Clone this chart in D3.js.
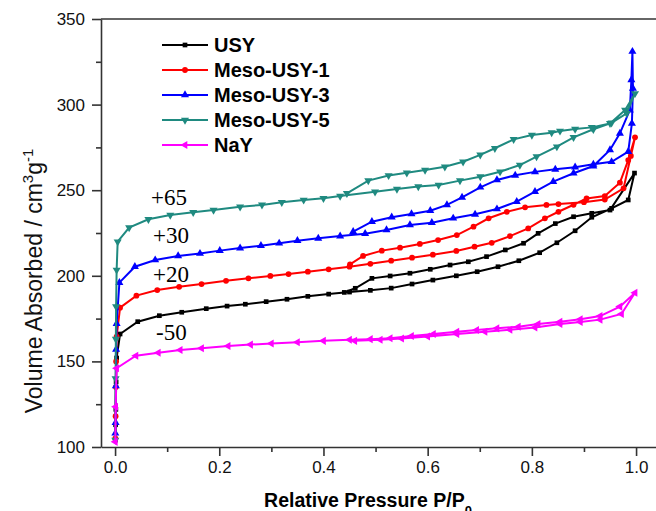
<!DOCTYPE html>
<html>
<head>
<meta charset="utf-8">
<script src="https://cdn.jsdelivr.net/npm/d3@7"></script>
<style>
  body { margin: 0; background: #fff; }
  svg { display: block; }
  .tick text { font-family: "Liberation Sans", Arial, sans-serif; }
</style>
</head>
<body>
<div id="graph"></div>
<script>
// isotherm data, [P/P0, volume]
var usyAds = [[0.0005,104],[0.001,113],[0.0015,122],[0.002,138],[0.003,152],[0.0096,166],[0.0435,173.2],[0.085,176.7],[0.128,178.7],[0.175,180.8],[0.215,182.3],[0.25,183.4],[0.29,184.9],[0.33,186.3],[0.37,188],[0.41,189.3],[0.45,190.5],[0.49,191.5],[0.53,192.8],[0.57,195.2],[0.61,197.5],[0.655,200],[0.695,202.4],[0.735,205.3],[0.775,208.8],[0.815,213.5],[0.848,219.3],[0.883,226.3],[0.915,234.2],[0.953,239.4],[0.985,244.3],[0.997,260]];
var usyDes = [[0.95,238.4],[0.915,236.5],[0.88,234.5],[0.845,230.5],[0.812,224.8],[0.784,219],[0.749,215.1],[0.713,211.2],[0.678,208.2],[0.643,206.3],[0.605,203.8],[0.566,201.5],[0.528,199.9],[0.493,198.5],[0.461,192.7],[0.44,190.3]];

var meso1Ads = [[0.0005,105],[0.001,118],[0.0015,135],[0.002,150],[0.003,164.4],[0.0096,181.4],[0.041,188.4],[0.081,191.7],[0.123,193.6],[0.166,195.2],[0.213,197.1],[0.256,198.5],[0.298,199.9],[0.333,201],[0.37,202.4],[0.41,203.8],[0.45,205.3],[0.49,207],[0.53,208.8],[0.57,210.6],[0.61,212.3],[0.655,214.5],[0.69,217],[0.723,219.3],[0.758,223.2],[0.793,227.7],[0.825,233.6],[0.851,237.4],[0.88,241.5],[0.905,245.2],[0.94,246.6],[0.969,254.4],[0.985,267.6],[0.998,280.9]];
var meso1Des = [[0.99,270],[0.976,251.1],[0.94,244.5],[0.9,243],[0.851,241.9],[0.828,241.4],[0.787,240],[0.752,237.4],[0.717,233.6],[0.688,228.7],[0.656,223.8],[0.62,220.9],[0.585,218.6],[0.547,216.4],[0.512,214.7],[0.476,211.6],[0.451,206.7]];

var meso3Ads = [[0.0005,108],[0.001,114.2],[0.0015,135.6],[0.002,157],[0.003,172],[0.0083,196],[0.038,205.3],[0.077,209.2],[0.121,211.6],[0.163,213],[0.201,214.7],[0.24,216.2],[0.28,217.6],[0.315,219],[0.35,220.5],[0.39,221.9],[0.432,223.2],[0.48,224.6],[0.521,226.8],[0.566,229.7],[0.608,231],[0.649,233.6],[0.691,235.9],[0.733,239],[0.771,243.3],[0.806,249.2],[0.841,255],[0.88,259.9],[0.918,264.1],[0.95,273.5],[0.969,283.2],[0.988,296.8],[0.991,314.4],[0.993,331]];
var meso3Des = [[0.994,309.5],[0.992,289],[0.985,272.5],[0.953,266.6],[0.918,265.1],[0.883,263.4],[0.845,262.2],[0.806,260.7],[0.768,258.7],[0.733,256],[0.701,251.7],[0.666,245.8],[0.637,241.4],[0.605,238],[0.569,236.1],[0.531,234.2],[0.493,231.6],[0.457,225.8]];

var meso5Ads = [[0.0005,104],[0.001,140],[0.0015,163],[0.002,182],[0.003,203.4],[0.005,219.9],[0.027,228.1],[0.064,233],[0.106,235.5],[0.15,237.1],[0.189,238.4],[0.24,240.3],[0.282,241.4],[0.32,242.9],[0.362,244.3],[0.4,245.3],[0.432,246.6],[0.499,249.1],[0.541,250.7],[0.582,252.1],[0.621,253],[0.662,255.6],[0.701,257.9],[0.739,260.8],[0.777,264.7],[0.809,269.6],[0.848,275.4],[0.88,280.9],[0.918,285.6],[0.953,289.4],[0.982,294.9],[0.998,306.5]];
var meso5Des = [[0.979,296.8],[0.95,289],[0.915,286.7],[0.883,285.7],[0.854,284.6],[0.838,283.6],[0.8,282.2],[0.765,279.7],[0.729,274.5],[0.701,270.6],[0.668,266.6],[0.633,263.7],[0.595,261.8],[0.56,260.2],[0.525,258.6],[0.486,255.6],[0.445,248.2]];

var nayAds = [[0.0005,103],[0.0012,123.5],[0.003,146],[0.04,153.3],[0.083,155.1],[0.125,156.7],[0.166,157.7],[0.217,159],[0.26,159.8],[0.3,160.4],[0.35,161.2],[0.4,162],[0.45,162.6],[0.49,163],[0.528,163.5],[0.569,164.8],[0.611,166],[0.656,167.3],[0.694,168.3],[0.733,169.3],[0.774,170.3],[0.812,171.8],[0.854,173.2],[0.893,174.6],[0.931,176.5],[0.969,182],[0.998,190.1]];
var nayDes = [[0.972,177.7],[0.931,174.4],[0.893,173],[0.854,171.8],[0.806,169.8],[0.758,168.5],[0.71,167.3],[0.656,166],[0.6,164.6],[0.55,163.4],[0.509,162.6],[0.46,162]];

var seriesNames = ["USY", "Meso-USY-1", "Meso-USY-3", "Meso-USY-5", "NaY"];
var shifts = ["-50", "+20", "+30", "+65"];
var xTicks = [0, 0.2, 0.4, 0.6, 0.8, 1.0];
var yTicks = [100, 150, 200, 250, 300, 350];

var series = [
  {name: seriesNames[0], ads: usyAds, des: usyDes, color: "#000000", sym: d3.symbolSquare, rot: 0, size: 22},
  {name: seriesNames[1], ads: meso1Ads, des: meso1Des, color: "#ff0000", sym: d3.symbolCircle, rot: 0, size: 26},
  {name: seriesNames[2], ads: meso3Ads, des: meso3Des, color: "#0000ff", sym: d3.symbolTriangle, rot: 0, size: 28},
  {name: seriesNames[3], ads: meso5Ads, des: meso5Des, color: "#1f8a80", sym: d3.symbolTriangle, rot: 180, size: 28},
  {name: seriesNames[4], ads: nayAds, des: nayDes, color: "#ff00ff", sym: d3.symbolTriangle, rot: -90, size: 28}
];

var W = 656, H = 511;
var mLeft = 101, mTop = 19, mBottom = 447;

var x = d3.scaleLinear().domain([-0.027, 1.04]).range([mLeft, mLeft + 1.067 * 521]);
var y = d3.scaleLinear().domain([100, 350]).range([mBottom, mTop]);

var svg = d3.select("#graph").append("svg")
  .attr("width", W)
  .attr("height", H);

// top frame line
svg.append("line")
  .attr("x1", x.range()[0]).attr("x2", x.range()[1])
  .attr("y1", y(350)).attr("y2", y(350))
  .attr("stroke", "#333").attr("stroke-width", 1.6);

svg.append("g")
  .attr("transform", "translate(0," + mBottom + ")")
  .call(d3.axisBottom(x).tickValues(xTicks).tickFormat(d3.format(".1f")).tickSize(9).tickSizeOuter(0).tickPadding(5));
svg.append("g")
  .attr("transform", "translate(0," + mBottom + ")")
  .call(d3.axisBottom(x).tickValues([0.1, 0.3, 0.5, 0.7, 0.9]).tickFormat("").tickSize(5).tickSizeOuter(0))
  .select(".domain").remove();

svg.append("g")
  .attr("transform", "translate(" + mLeft + ",0)")
  .call(d3.axisLeft(y).tickValues(yTicks).tickSize(9).tickSizeOuter(0).tickPadding(7));
svg.append("g")
  .attr("transform", "translate(" + mLeft + ",0)")
  .call(d3.axisLeft(y).tickValues([125, 175, 225, 275, 325]).tickFormat("").tickSize(5).tickSizeOuter(0))
  .select(".domain").remove();

svg.selectAll(".domain, .tick line").attr("stroke", "#333").attr("stroke-width", 1.6);
svg.selectAll(".tick text").attr("font-size", 17).attr("fill", "#111");

// axis titles
svg.append("text")
  .attr("x", 368).attr("y", 507)
  .attr("text-anchor", "middle")
  .attr("font-family", "Liberation Sans, Arial, sans-serif")
  .attr("font-weight", "bold")
  .attr("font-size", 19.5)
  .html('Relative Pressure P/P<tspan dy="8" font-size="13">0</tspan>');

svg.append("text")
  .attr("transform", "translate(42,281) rotate(-90)")
  .attr("text-anchor", "middle")
  .attr("font-family", "Liberation Sans, Arial, sans-serif")
  .attr("font-size", 23)
  .attr("fill", "#111")
  .html('Volume Absorbed / cm<tspan dy="-9" font-size="15">3</tspan><tspan dy="9">g</tspan><tspan dy="-9" font-size="15">-1</tspan>');

var line = d3.line()
  .x(function(d) { return x(d[0]); })
  .y(function(d) { return y(d[1]); });

series.forEach(function(s) {
  var pts = s.ads.concat(s.des);
  var g = svg.append("g");
  g.append("path")
    .attr("d", line(pts))
    .attr("fill", "none")
    .attr("stroke", s.color)
    .attr("stroke-width", 2);
  g.selectAll("path.m")
    .data(pts)
    .enter()
    .append("path")
    .attr("class", "m")
    .attr("d", d3.symbol().type(s.sym).size(s.size))
    .attr("transform", function(d) {
      return "translate(" + x(d[0]) + "," + y(d[1]) + ") rotate(" + s.rot + ")";
    })
    .attr("fill", s.color);
});

// legend
var legend = svg.append("g");
series.forEach(function(s, i) {
  var ly = 45 + i * 25;
  legend.append("line")
    .attr("x1", 162).attr("x2", 208)
    .attr("y1", ly).attr("y2", ly)
    .attr("stroke", s.color).attr("stroke-width", 2);
  legend.append("path")
    .attr("d", d3.symbol().type(s.sym).size(s.size))
    .attr("transform", "translate(185," + ly + ") rotate(" + s.rot + ")")
    .attr("fill", s.color);
  legend.append("text")
    .attr("x", 214).attr("y", ly + 7)
    .attr("font-family", "Liberation Sans, Arial, sans-serif")
    .attr("font-weight", "bold")
    .attr("font-size", 20)
    .text(s.name);
});

// offset labels
var shiftPos = [[156, 340], [153, 282], [153, 243], [151, 205]];
shifts.forEach(function(t, i) {
  svg.append("text")
    .attr("x", shiftPos[i][0]).attr("y", shiftPos[i][1])
    .attr("font-family", "Liberation Serif, Times New Roman, serif")
    .attr("font-size", 23)
    .text(t);
});
</script>
</body>
</html>
